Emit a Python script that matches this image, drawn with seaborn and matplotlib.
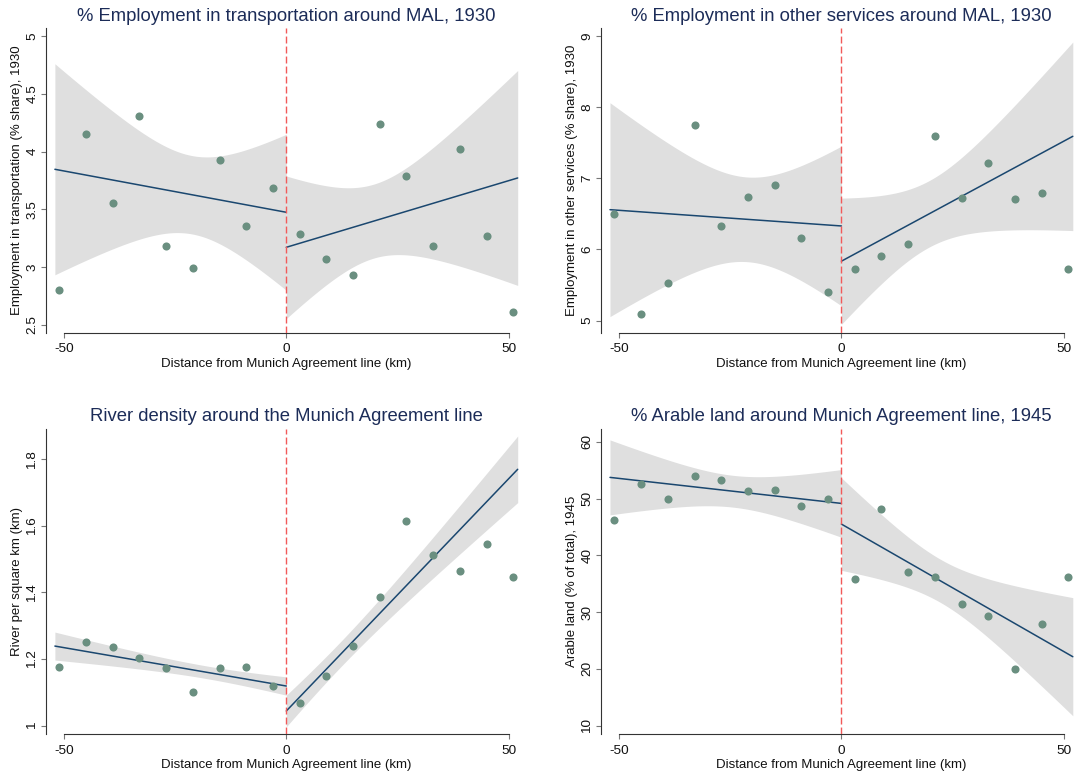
import numpy as np
import pandas as pd
import matplotlib
matplotlib.use("Agg")
import matplotlib.pyplot as plt
import seaborn as sns

# Bin centres (km from the Munich Agreement line)
distance_km = [-51, -45, -39, -33, -27, -21, -15, -9, -3,
               3, 9, 15, 21, 27, 33, 39, 45, 51]

# Binned means
transport_share = [2.80, 4.155, 3.555, 4.308, 3.186, 2.99, 3.93, 3.356, 3.688,
                   3.287, 3.068, 2.93, 4.236, 3.786, 3.186, 4.023, 3.27, 2.612]
other_services_share = [6.503, 5.089, 5.523, 7.749, 6.33, 6.741, 6.904, 6.167, 5.401,
                        5.728, 5.91, 6.074, 7.595, 6.722, 7.217, 6.708, 6.788, 5.728]
river_density = [1.175, 1.252, 1.235, 1.204, 1.174, 1.101, 1.172, 1.175, 1.120,
                 1.067, 1.150, 1.239, 1.387, 1.615, 1.512, 1.463, 1.545, 1.446]
arable_land = [46.27, 52.55, 49.96, 54.01, 53.25, 51.31, 51.55, 48.62, 49.85,
               35.82, 48.09, 37.11, 36.12, 31.42, 29.25, 19.98, 27.90, 36.17]

# Linear fits on each side of the line: fitted value at the two ends of the span
fit_span_left = [-52, 0]
fit_span_right = [0, 52]
transport_fit_left = [3.847, 3.475]
transport_fit_right = [3.172, 3.772]
services_fit_left = [6.559, 6.33]
services_fit_right = [5.835, 7.590]
river_fit_left = [1.239, 1.119]
river_fit_right = [1.044, 1.770]
arable_fit_left = [53.72, 49.14]
arable_fit_right = [45.50, 22.15]

# 95% CI half-widths: at left end, narrowest point, right end
transport_ci_left = [0.913, 0.339, 0.675]
transport_ci_right = [0.617, 0.320, 0.930]
services_ci_left = [1.503, 0.595, 1.122]
services_ci_right = [0.887, 0.467, 1.325]
river_ci_left = [0.042, 0.019, 0.0275]
river_ci_right = [0.0475, 0.038, 0.100]
arable_ci_left = [6.6, 2.8, 5.96]
arable_ci_right = [8.15, 3.8, 10.4]

titles = ["% Employment in transportation around MAL, 1930",
          "% Employment in other services around MAL, 1930",
          "River density around the Munich Agreement line",
          "% Arable land around Munich Agreement line, 1945"]
ylabels = ["Employment in transportation (% share), 1930",
           "Employment in other services (% share), 1930",
           "River per square km (km)",
           "Arable land (% of total), 1945"]
xlabel = "Distance from Munich Agreement line (km)"
xticks = [-50, 0, 50]
yticks = [[2.5, 3, 3.5, 4, 4.5, 5],
          [5, 6, 7, 8, 9],
          [1, 1.2, 1.4, 1.6, 1.8],
          [10, 20, 30, 40, 50, 60]]
ylims = [(2.433, 5.067), (4.83, 9.108), (0.974, 1.891), (8.49, 62.24)]

POINT = "#6a8f80"
FIT = "#1a476f"
BAND = "#dfdfdf"
CUTOFF = "#f25a5a"
TITLE = "#1c2c58"

sns.set_theme(style="white")
plt.rcParams["font.family"] = ["Liberation Sans", "DejaVu Sans"]
plt.rcParams["axes.unicode_minus"] = False


def ci_band(span, fit, ci, n=300):
    """Hyperbolic confidence band around a straight fitted line."""
    x0, x1 = span
    hl, h0, hr = ci
    a = hl ** 2 - h0 ** 2
    b = hr ** 2 - h0 ** 2
    r = np.sqrt(a / b)
    xc = x1 - (x1 - x0) / (1 + r)
    k = a / (xc - x0) ** 2
    x = np.linspace(x0, x1, n)
    y = fit[0] + (fit[1] - fit[0]) * (x - x0) / (x1 - x0)
    h = np.sqrt(h0 ** 2 + k * (x - xc) ** 2)
    return x, y - h, y + h


panels = [
    (transport_share, transport_fit_left, transport_fit_right, transport_ci_left, transport_ci_right),
    (other_services_share, services_fit_left, services_fit_right, services_ci_left, services_ci_right),
    (river_density, river_fit_left, river_fit_right, river_ci_left, river_ci_right),
    (arable_land, arable_fit_left, arable_fit_right, arable_ci_left, arable_ci_right),
]

fig = plt.figure(figsize=(10.74, 7.78), dpi=100)
W, H = 1074.0, 778.0
col_left = [46.0, 601.1]
axw = 480.6
rows = [(28.3, 332.7), (429.0, 734.3)]

for i, (vals, fl, fr, cl, cr) in enumerate(panels):
    r, c = divmod(i, 2)
    top, bot = rows[r]
    ax = fig.add_axes([col_left[c] / W, 1 - bot / H, axw / W, (bot - top) / H])

    for span, fit, ci in ((fit_span_left, fl, cl), (fit_span_right, fr, cr)):
        bx, lo, hi = ci_band(span, fit, ci)
        ax.fill_between(bx, lo, hi, color=BAND, linewidth=0, zorder=1)
        sns.lineplot(x=span, y=fit, ax=ax, color=FIT, linewidth=1.1, zorder=3)

    ax.axvline(0, color=CUTOFF, linewidth=1.0, linestyle=(0, (5, 2.2)), zorder=4)

    df = pd.DataFrame({"distance": distance_km, "value": vals})
    sns.scatterplot(data=df, x="distance", y="value", ax=ax, color=POINT,
                    s=34, linewidth=0, zorder=5)

    ax.set_xlim(-54, 54)
    ax.set_ylim(*ylims[i])
    ax.set_xticks(xticks)
    ax.set_xticklabels([f"{t:g}" for t in xticks])
    ax.set_yticks(yticks[i])
    ax.set_yticklabels([f"{t:g}" for t in yticks[i]])

    for side in ("top", "right"):
        ax.spines[side].set_visible(False)
    for side in ("left", "bottom"):
        ax.spines[side].set_color("#333333")
        ax.spines[side].set_linewidth(0.8)
    ax.spines["bottom"].set_bounds(-50, 50)

    ax.tick_params(axis="both", which="major", direction="out", length=3.5,
                   width=0.8, color="#777777", labelsize=9.7, labelcolor="#111111")
    ax.tick_params(axis="x", pad=4, bottom=True)
    ax.tick_params(axis="y", pad=2, left=True, labelrotation=90)
    for lab in ax.get_yticklabels():
        lab.set_va("center")

    ax.set_title(titles[i], fontsize=13.3, color=TITLE, pad=5.5)
    ax.set_xlabel(xlabel, fontsize=9.5, color="#111111", labelpad=2)
    ax.set_ylabel(ylabels[i], fontsize=9.5, color="#111111")
    ax.yaxis.set_label_coords(-23 / axw, 0.5)
    ax.grid(False)

fig.savefig("out.png", dpi=100, facecolor="white")
